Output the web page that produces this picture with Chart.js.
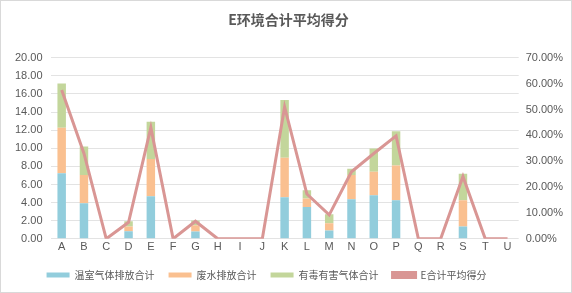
<!DOCTYPE html>
<html lang="zh">
<head>
    <meta charset="UTF-8">
    <title>E环境合计平均得分</title>
    <script src="https://cdn.jsdelivr.net/npm/chart.js"></script>
    <style>
        html, body { margin: 0; padding: 0; background: #fff; }
        .box {
            width: 570px;
            height: 291px;
            border: 1px solid #d9d9d9;
            position: relative;
        }
    </style>
</head>
<body>
    <div class="box">
        <canvas id="chart"></canvas>
    </div>

    <script>
        // 数据
        const categories = ['A','B','C','D','E','F','G','H','I','J','K','L','M','N','O','P','Q','R','S','T','U'];
        const ghg   = [7.23, 3.93, 0, 0.84, 4.70, 0, 0.81, 0, 0, 0, 4.59, 3.52, 0.92, 4.37, 4.81, 4.26, 0, 0, 1.36, 0, 0];
        const water = [5.03, 3.12, 0, 0.52, 4.11, 0, 0.69, 0, 0, 0, 4.36, 0.92, 0.80, 2.68, 2.60, 3.85, 0, 0, 2.90, 0, 0];
        const toxic = [4.91, 3.15, 0, 0.58, 4.11, 0, 0.52, 0, 0, 0, 6.39, 0.92, 1.00, 0.69, 2.57, 3.78, 0, 0, 2.93, 0, 0];
        const avgScore = [0.575, 0.33, 0, 0.064, 0.43, 0, 0.068, 0, 0, 0, 0.51, 0.173, 0.0925, 0.259, 0.33, 0.398, 0, 0, 0.241, 0, 0];

        const grey = '#595959';
        const font = "'Liberation Sans', 'Noto Sans CJK SC', sans-serif";
        Chart.defaults.font.family = font;
        Chart.defaults.color = grey;

        // 图例高度压缩一点，并稍微左移
        const legendTrim = {
            id: 'legendTrim',
            beforeLayout(chart) {
                const lg = chart.legend;
                if (lg && !lg._trimmed) {
                    const fit = lg.fit.bind(lg);
                    lg.fit = function () { fit(); this.height -= 9; };
                    lg._trimmed = true;
                }
            },
            afterLayout(chart) {
                const lg = chart.legend;
                if (lg) { lg.left -= 22; lg.right -= 22; }
            }
        };

        const ctx = document.getElementById('chart').getContext('2d');
        new Chart(ctx, {
            data: {
                labels: categories,
                datasets: [
                    {
                        type: 'line',
                        label: 'E合计平均得分',
                        data: avgScore,
                        yAxisID: 'y1',
                        borderColor: '#D99694',
                        backgroundColor: '#D99694',
                        borderWidth: 3,
                        pointRadius: 0,
                        tension: 0,
                        order: 0
                    },
                    {
                        type: 'bar',
                        label: '温室气体排放合计',
                        data: ghg,
                        backgroundColor: '#92CDDC',
                        stack: 's',
                        order: 1
                    },
                    {
                        type: 'bar',
                        label: '废水排放合计',
                        data: water,
                        backgroundColor: '#FAC090',
                        stack: 's',
                        order: 1
                    },
                    {
                        type: 'bar',
                        label: '有毒有害气体合计',
                        data: toxic,
                        backgroundColor: '#C3D69B',
                        stack: 's',
                        order: 1
                    }
                ]
            },
            options: {
                responsive: true,
                maintainAspectRatio: false,
                animation: false,
                layout: { padding: { left: 6, right: 1, top: 4, bottom: 11 } },
                datasets: {
                    bar: { categoryPercentage: 1, barPercentage: 0.38 }
                },
                scales: {
                    x: {
                        stacked: true,
                        grid: { display: false, drawTicks: false },
                        border: { display: false },
                        ticks: { font: { size: 11 }, color: grey, padding: 2 }
                    },
                    y: {
                        stacked: true,
                        min: 0,
                        max: 20,
                        ticks: {
                            stepSize: 2,
                            font: { size: 11 },
                            color: grey,
                            padding: 8,
                            callback: v => v.toFixed(2)
                        },
                        grid: { color: '#e3e3e3', drawTicks: false },
                        border: { display: false }
                    },
                    y1: {
                        position: 'right',
                        min: 0,
                        max: 0.7,
                        ticks: {
                            stepSize: 0.1,
                            font: { size: 11 },
                            color: grey,
                            padding: 7,
                            callback: v => (v * 100).toFixed(2) + '%'
                        },
                        grid: { display: false, drawTicks: false },
                        border: { display: false }
                    }
                },
                plugins: {
                    title: {
                        display: true,
                        text: 'E环境合计平均得分',
                        color: grey,
                        font: { size: 14, weight: 'bold', family: "'Noto Sans CJK SC', sans-serif" },
                        padding: { top: 6, bottom: 30 }
                    },
                    legend: {
                        position: 'bottom',
                        labels: {
                            boxWidth: 23,
                            boxHeight: 5,
                            padding: 14,
                            color: grey,
                            font: { size: 10, family: "'Noto Sans CJK SC', sans-serif" },
                            sort: (a, b) => (a.datasetIndex === 0 ? 1 : 0) - (b.datasetIndex === 0 ? 1 : 0)
                        }
                    },
                    tooltip: { enabled: false }
                }
            },
            plugins: [legendTrim]
        });
    </script>
</body>
</html>
